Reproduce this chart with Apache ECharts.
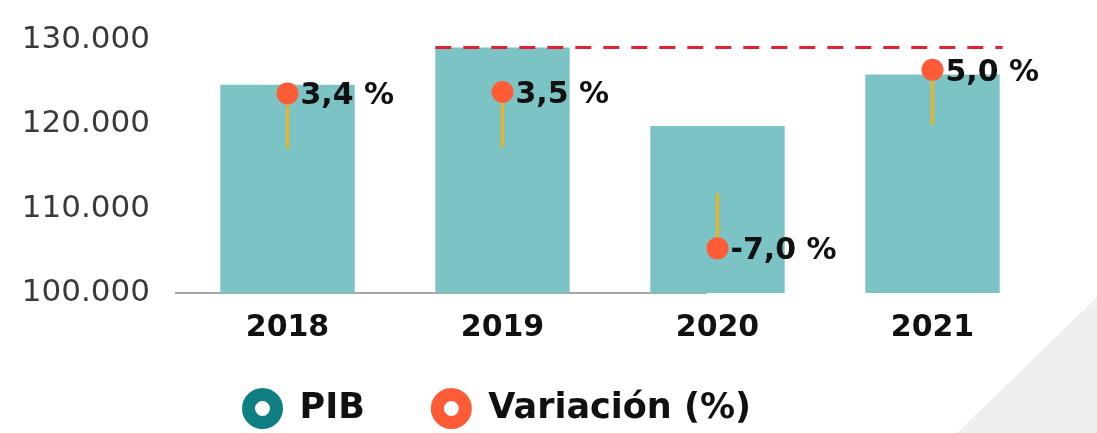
<!DOCTYPE html>
<html>
<head>
<meta charset="utf-8">
<script src="https://cdn.jsdelivr.net/npm/echarts@6/dist/echarts.min.js"></script>
<style>
  html, body { margin: 0; padding: 0; background: #fff; }
  #chart { width: 1097px; height: 433px; }
</style>
</head>
<body>
<div id="chart"></div>
<script>
// datos
var years = ['2018', '2019', '2020', '2021']
var pib = [124700, 129100, 119800, 125900]
var variacion = [3.4, 3.5, -7.0, 5.0]
var yTicks = [100000, 110000, 120000, 130000]

var FONT = '"DejaVu Sans"'
var TEAL = '#7cc3c5'
var ORANGE = '#fe5b37'
var STEM = '#efb31e'

// 130000 -> "130.000"
function miles (v) {
  return String(v).replace(/\B(?=(\d{3})+(?!\d))/g, '.')
}
// 3.4 -> "3,4 %"
function pct (v) {
  return v.toFixed(1).replace('.', ',') + ' %'
}

var chart = echarts.init(document.getElementById('chart'))

var option = {
  animation: false,
  backgroundColor: '#fff',
  grid: { left: 180, right: 57, top: 40, bottom: 140 },
  xAxis: {
    type: 'category',
    data: years,
    axisLine: { show: false },
    axisTick: { show: false },
    axisLabel: {
      margin: 20,
      fontFamily: FONT,
      fontWeight: 'bold',
      fontSize: 30,
      color: '#111'
    }
  },
  yAxis: [{
    type: 'value',
    min: yTicks[0],
    max: yTicks[yTicks.length - 1],
    interval: 10000,
    splitLine: { show: false },
    axisLine: { show: false },
    axisTick: { show: false },
    axisLabel: {
      margin: 30,
      fontFamily: FONT,
      fontSize: 31,
      color: '#3a3a3a',
      formatter: miles
    }
  }, {
    // eje oculto para la variacion
    type: 'value',
    min: -10,
    max: 7,
    show: false,
    splitLine: { show: false }
  }],
  legend: {
    left: 242,
    top: 388,
    padding: 0,
    itemWidth: 28,
    itemHeight: 28,
    itemGap: 66,
    icon: 'circle',
    textStyle: {
      fontFamily: FONT,
      fontWeight: 'bold',
      fontSize: 35,
      color: '#111',
      padding: [0, 0, 0, 18]
    },
    data: [
      { name: 'PIB', itemStyle: { color: '#fff', borderColor: '#0f7f84', borderWidth: 13 } },
      { name: 'Variación (%)', itemStyle: { color: '#fff', borderColor: ORANGE, borderWidth: 13 } }
    ]
  },
  graphic: [
    // fondo gris de la esquina
    { type: 'polygon', z: -10, silent: true,
      shape: { points: [[1097, 297], [957, 433], [1097, 433]] },
      style: { fill: '#efefef' } },
    // linea base parcial
    { type: 'line', z: 0, silent: true,
      shape: { x1: 175, y1: 293, x2: 707, y2: 293 },
      style: { stroke: '#a8a8a8', lineWidth: 2 } }
  ],
  series: [{
    name: 'PIB',
    type: 'bar',
    data: pib,
    barWidth: '62.5%',
    itemStyle: { color: TEAL }
  }, {
    // linea punteada al nivel maximo
    name: 'max',
    type: 'custom',
    data: [[years[1], Math.max.apply(null, pib)]],
    z: 3,
    renderItem: function (params, api) {
      var half = api.size([1, 0])[0] * 0.3125
      var a = api.coord([years[1], api.value(1)])
      var b = api.coord([years[years.length - 1], api.value(1)])
      return {
        type: 'line',
        shape: { x1: a[0] - half, y1: a[1], x2: b[0] + half + 3, y2: a[1] },
        style: { stroke: '#e0212f', lineWidth: 3, lineDash: [16, 12] }
      }
    }
  }, {
    name: 'Variación (%)',
    type: 'custom',
    yAxisIndex: 1,
    z: 4,
    itemStyle: { color: ORANGE },
    data: years.map(function (y, i) { return [y, variacion[i]] }),
    renderItem: function (params, api) {
      var v = api.value(1)
      var p = api.coord([api.value(0), v])
      var dir = v >= 0 ? 1 : -1
      return {
        type: 'group',
        children: [
          { type: 'line',
            shape: { x1: p[0], y1: p[1], x2: p[0], y2: p[1] + dir * 55 },
            style: { stroke: STEM, lineWidth: 3 } },
          { type: 'circle',
            shape: { cx: p[0], cy: p[1], r: 11 },
            style: { fill: ORANGE } },
          { type: 'text',
            x: p[0] + 13, y: p[1] + 3,
            style: {
              text: pct(v),
              fontFamily: FONT,
              fontWeight: 'bold',
              fontSize: 30,
              fill: '#111',
              verticalAlign: 'middle'
            } }
        ]
      }
    }
  }]
}

chart.setOption(option)
</script>
</body>
</html>
